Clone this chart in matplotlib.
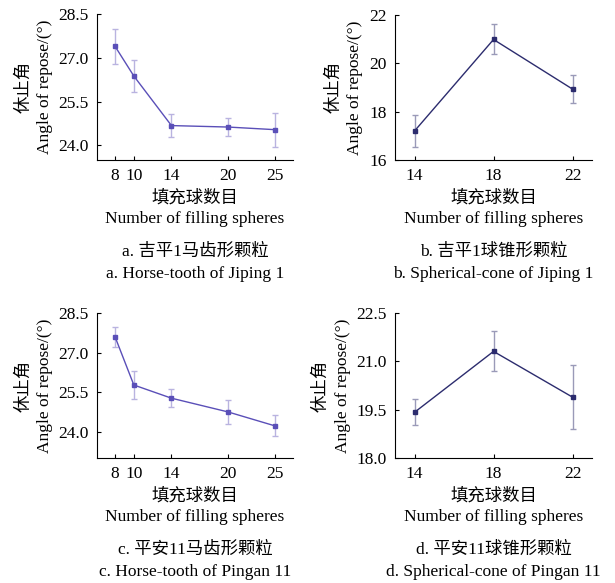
import matplotlib
matplotlib.use("Agg")
import matplotlib.pyplot as plt

plt.rcParams['font.family'] = ['Liberation Serif', 'Noto Sans CJK SC']
plt.rcParams['font.size'] = 12.5

# panel a: horse-tooth, Jiping 1
a_x = [8, 10, 14, 20, 25]
a_y = [27.4, 26.38, 24.68, 24.63, 24.54]
a_err = [0.6, 0.55, 0.4, 0.32, 0.58]

# panel b: spherical-cone, Jiping 1
b_x = [14, 18, 22]
b_y = [17.2, 20.98, 18.93]
b_err = [0.65, 0.62, 0.58]

# panel c: horse-tooth, Pingan 11
c_x = [8, 10, 14, 20, 25]
c_y = [27.6, 25.77, 25.27, 24.75, 24.22]
c_err = [0.38, 0.53, 0.35, 0.45, 0.4]

# panel d: spherical-cone, Pingan 11
d_x = [14, 18, 22]
d_y = [19.42, 21.31, 19.89]
d_err = [0.4, 0.62, 1.0]

cap_cn = ['a. 吉平1马齿形颗粒', 'b. 吉平1球锥形颗粒', 'c. 平安11马齿形颗粒', 'd. 平安11球锥形颗粒']
cap_en = ['a. Horse-tooth of Jiping 1', 'b. Spherical-cone of Jiping 1',
          'c. Horse-tooth of Pingan 11', 'd. Spherical-cone of Pingan 11']

fig = plt.figure(figsize=(6.15, 5.83), dpi=100)

pos = [[0.158, 0.7256, 0.318, 0.250],
       [0.642, 0.7256, 0.321, 0.249],
       [0.158, 0.2144, 0.318, 0.2486],
       [0.642, 0.2144, 0.321, 0.2486]]

panels = [
    (a_x, a_y, a_err, '#5a4fb8', '#b9b3e0', (6.1, 26.9), (23.5, 28.5), [24.0, 25.5, 27.0, 28.5], '%.1f'),
    (b_x, b_y, b_err, '#2c2c6e', '#9a9ab8', (13.0, 23.0), (16, 22), [16, 18, 20, 22], '%d'),
    (c_x, c_y, c_err, '#5a4fb8', '#b9b3e0', (6.1, 26.9), (23.0, 28.5), [24.0, 25.5, 27.0, 28.5], '%.1f'),
    (d_x, d_y, d_err, '#2c2c6e', '#9a9ab8', (13.0, 23.0), (18.0, 22.5), [18.0, 19.5, 21.0, 22.5], '%.1f'),
]

for i, (x, y, e, col, ecol, xl, yl, yt, fmt) in enumerate(panels):
    ax = fig.add_axes(pos[i])
    ax.errorbar(x, y, yerr=e, color=col, ecolor=ecol, elinewidth=1.0, capsize=2,
                capthick=1.0, marker='s', markersize=3.5, lw=1.0)
    ax.set_xlim(*xl)
    ax.set_ylim(*yl)
    ax.set_xticks(x)
    ax.set_yticks(yt)
    ax.set_yticklabels([fmt % v for v in yt])
    for s in ['top', 'right']:
        ax.spines[s].set_visible(False)
    ax.spines['left'].set_linewidth(0.8)
    ax.spines['bottom'].set_linewidth(0.8)
    ax.tick_params(direction='in', length=3, width=0.8, labelsize=12.5, pad=6)
    ax.set_xlabel('填充球数目\nNumber of filling spheres', linespacing=1.35, labelpad=4)
    ax.set_ylabel('休止角\nAngle of repose/(°)', linespacing=1.4, labelpad=4)
    cx = pos[i][0] + pos[i][2] / 2
    cy = pos[i][1]
    fig.text(cx, cy - 0.158, cap_cn[i], ha='center', va='center')
    fig.text(cx, cy - 0.195, cap_en[i], ha='center', va='center')

fig.savefig('out.png', dpi=100)
